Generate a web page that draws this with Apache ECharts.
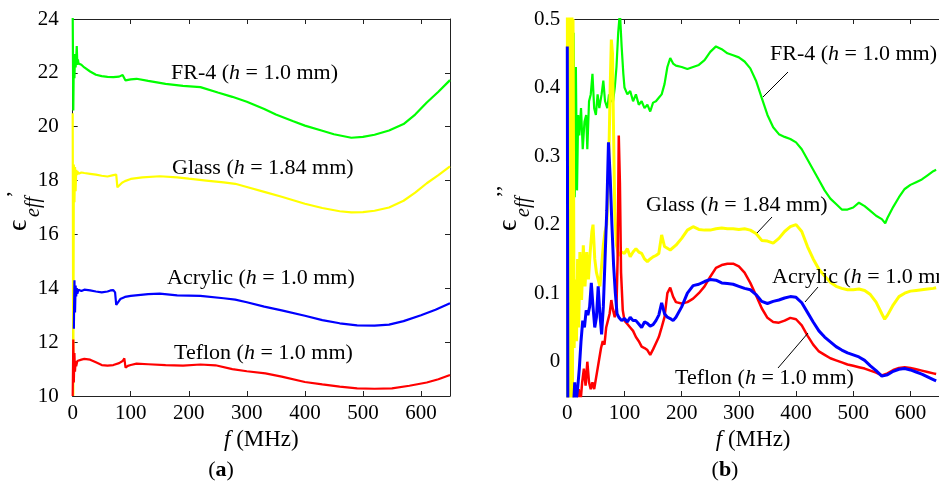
<!DOCTYPE html>
<html><head><meta charset="utf-8">
<script src="https://cdn.jsdelivr.net/npm/echarts@6/dist/echarts.min.js"></script>
<style>html,body{margin:0;padding:0;background:#fff}#c{width:939px;height:483px}</style>
</head><body><div id="c"></div>
<script>
// ---------- data (a): real part ----------
const aFR4F = [0,1,2,3,4,5,6,7,8,9,10,15,20,30,40,50,60,70,80,86,89,91,94,100,110,130,160,190,220,250,275,300,330,350,380,400,430,450,480,500,520,545,570,590,610,630,650];
const aFR4V = [24.2,20.6,22.6,21.8,22.7,22.2,22.5,23.0,22.3,22.5,22.35,22.3,22.2,22.05,21.93,21.88,21.85,21.84,21.86,21.92,21.98,21.72,21.7,21.76,21.78,21.7,21.59,21.52,21.47,21.27,21.11,20.93,20.66,20.45,20.2,20.04,19.85,19.72,19.59,19.62,19.7,19.86,20.1,20.45,20.9,21.3,21.73];
const aGlassF = [0,1,2,3,4,5,6,7,8,10,15,20,30,40,50,60,70,75,77,79,85,90,100,120,150,180,200,230,260,280,300,330,360,400,430,460,480,500,520,545,570,590,610,630,650];
const aGlassV = [20.5,10.0,18.6,17.2,18.5,17.6,18.4,18.2,18.35,18.25,18.3,18.28,18.25,18.22,18.18,18.15,18.2,18.22,17.75,17.72,17.92,17.98,18.06,18.12,18.16,18.12,18.07,18.0,17.93,17.88,17.76,17.58,17.4,17.14,16.98,16.86,16.82,16.83,16.88,17.0,17.25,17.55,17.9,18.2,18.53];
const aAcrF = [2,3,4,5,6,7,8,10,15,20,30,40,50,60,65,70,73,75,78,82,90,100,130,150,180,220,260,280,300,330,360,400,430,460,490,520,545,570,600,625,650];
const aAcrV = [12.5,14.3,13.1,14.1,13.7,14.0,13.8,13.95,13.9,13.95,13.92,13.88,13.85,13.88,13.92,13.93,13.85,13.38,13.45,13.6,13.68,13.72,13.78,13.8,13.74,13.72,13.63,13.58,13.48,13.32,13.18,12.98,12.82,12.7,12.62,12.61,12.65,12.78,13.0,13.2,13.44];
const aTefF = [0,1,2,3,4,5,6,8,10,15,20,30,40,50,60,70,80,86,89,91,95,100,110,130,160,190,220,246,275,300,332,360,400,430,460,490,520,550,580,610,630,650];
const aTefV = [10.0,12.1,10.5,11.6,10.9,11.3,11.1,11.3,11.3,11.35,11.38,11.35,11.25,11.15,11.13,11.15,11.22,11.3,11.4,11.05,11.12,11.15,11.2,11.18,11.15,11.13,11.17,11.14,11.0,10.92,10.84,10.72,10.52,10.43,10.35,10.28,10.27,10.28,10.38,10.5,10.62,10.78];

// ---------- data (b): imaginary part ----------
const bFR4F = [0,1,3,5,7,9,11,13,15,17,19,21,24,27,30,33,35,38,41,44,47,50,53,56,60,63,66,70,73,76,80,83,86,89,92,95,98,100,105,110,115,120,125,130,135,140,145,150,155,160,165,170,175,180,185,190,200,210,220,230,240,250,260,270,280,290,300,310,320,330,340,350,360,370,380,390,400,410,420,430,440,450,460,470,480,490,500,510,520,530,540,550,556,560,570,580,590,600,610,620,630,640,645];
const bFR4V = [-0.1,0.46,-0.1,0.3,-0.1,0.2,0.48,0.24,0.43,0.25,0.36,0.33,0.37,0.31,0.35,0.36,0.31,0.38,0.39,0.42,0.37,0.36,0.39,0.37,0.39,0.41,0.38,0.37,0.39,0.38,0.38,0.40,0.43,0.48,0.51,0.46,0.42,0.40,0.39,0.395,0.38,0.39,0.375,0.38,0.37,0.375,0.365,0.378,0.38,0.385,0.39,0.405,0.43,0.443,0.435,0.432,0.43,0.427,0.43,0.433,0.44,0.452,0.46,0.456,0.45,0.447,0.444,0.438,0.428,0.41,0.385,0.36,0.342,0.332,0.328,0.325,0.32,0.31,0.295,0.28,0.265,0.25,0.238,0.23,0.222,0.222,0.225,0.232,0.227,0.22,0.213,0.208,0.202,0.21,0.226,0.24,0.252,0.258,0.262,0.266,0.272,0.278,0.28];
const bGlassF = [0,1,2,3,4,5,6,7,8,9,10,12,14,16,18,20,22,25,28,31,34,37,40,43,45,48,51,54,57,60,63,66,69,72,75,77,79,81,83,86,90,95,100,105,110,115,120,125,130,135,140,145,150,155,160,165,170,180,190,200,210,220,230,240,250,260,270,280,290,300,310,320,330,340,350,360,370,380,390,400,410,420,430,440,450,460,470,480,490,500,510,520,530,540,550,555,560,570,580,590,600,610,620,630,640,645];
const bGlassV = [0.6,-0.1,0.6,-0.1,0.6,-0.1,0.6,0.0,0.6,-0.1,0.5,0.02,0.12,0.03,0.15,0.05,0.16,0.09,0.17,0.11,0.16,0.12,0.16,0.19,0.2,0.15,0.13,0.12,0.11,0.14,0.17,0.19,0.2,0.27,0.4,0.47,0.45,0.33,0.22,0.17,0.155,0.16,0.158,0.165,0.153,0.16,0.165,0.16,0.158,0.15,0.146,0.15,0.153,0.155,0.158,0.185,0.168,0.163,0.17,0.18,0.192,0.197,0.193,0.192,0.192,0.194,0.195,0.194,0.194,0.193,0.194,0.192,0.187,0.177,0.176,0.173,0.18,0.19,0.197,0.2,0.19,0.168,0.15,0.135,0.125,0.116,0.11,0.107,0.105,0.105,0.106,0.104,0.098,0.087,0.07,0.062,0.068,0.083,0.095,0.1,0.103,0.104,0.105,0.106,0.107,0.108];
const bAcrF = [0,1,3,10,13,15,18,21,24,27,30,33,36,39,42,45,48,51,54,57,60,63,66,69,72,75,78,81,84,87,90,95,100,105,110,115,120,125,130,135,140,145,150,155,160,165,170,175,180,185,190,200,210,220,230,240,250,260,270,280,290,300,310,320,330,340,350,360,370,380,390,400,410,420,430,440,450,460,470,480,490,500,510,520,530,540,550,560,570,580,590,600,610,620,630,640,645];
const bAcrV = [0.46,-0.1,-0.1,-0.08,-0.03,-0.06,-0.04,-0.01,0.03,0.06,0.05,0.075,0.068,0.08,0.115,0.08,0.05,0.065,0.11,0.07,0.04,0.08,0.15,0.22,0.32,0.27,0.2,0.14,0.1,0.07,0.065,0.06,0.063,0.058,0.065,0.06,0.06,0.055,0.05,0.058,0.056,0.052,0.054,0.06,0.068,0.086,0.07,0.065,0.063,0.06,0.065,0.08,0.1,0.111,0.113,0.117,0.12,0.119,0.115,0.114,0.113,0.11,0.107,0.105,0.098,0.088,0.085,0.088,0.09,0.093,0.095,0.094,0.086,0.072,0.058,0.045,0.036,0.029,0.022,0.017,0.013,0.01,0.007,0.002,-0.006,-0.013,-0.021,-0.019,-0.014,-0.011,-0.01,-0.012,-0.015,-0.018,-0.022,-0.026,-0.028];
const bTefF = [17,20,23,26,29,32,35,38,41,44,47,50,53,56,59,62,65,68,71,74,77,80,83,86,88,90,92,94,97,100,105,110,115,120,125,130,135,140,145,150,155,160,165,170,175,180,185,190,200,210,220,230,240,250,260,270,280,290,300,310,320,330,340,350,360,370,380,390,400,410,420,430,440,450,460,470,480,490,500,510,520,530,540,550,560,570,580,590,600,610,620,630,640,645];
const bTefV = [-0.1,-0.04,-0.06,-0.03,-0.01,-0.035,0.0,-0.03,-0.04,-0.03,-0.04,-0.025,-0.01,0.005,0.02,0.03,0.025,0.05,0.06,0.07,0.09,0.075,0.065,0.08,0.15,0.33,0.26,0.13,0.075,0.06,0.055,0.05,0.045,0.036,0.03,0.022,0.02,0.017,0.01,0.018,0.027,0.036,0.05,0.065,0.1,0.108,0.095,0.087,0.085,0.087,0.092,0.1,0.11,0.124,0.137,0.141,0.143,0.143,0.139,0.13,0.115,0.097,0.078,0.064,0.058,0.057,0.06,0.064,0.062,0.053,0.038,0.025,0.015,0.01,0.005,0.002,-0.001,-0.004,-0.006,-0.008,-0.01,-0.013,-0.016,-0.02,-0.017,-0.012,-0.009,-0.008,-0.009,-0.011,-0.013,-0.015,-0.017,-0.018];

// ---------- axes / labels ----------
const xTicks = [0,100,200,300,400,500,600];
const aYTicks = [10,12,14,16,18,20,22,24];
const bYTicks = [0,0.1,0.2,0.3,0.4,0.5];
const seriesNames = ['FR-4','Glass','Acrylic','Teflon'];
const thickness = ['1.0','1.84','1.0','1.0'];
const colors = ['#00ff00','#ffff00','#0000ff','#ff0000'];

const FF = '"Times New Roman","Liberation Serif",serif';
const zip = (f,v) => f.map((x,i)=>[x,v[i]]);

function xAx(gi, pos, show){
  return {type:'value', gridIndex:gi, position:pos, min:0, max:650, interval:100,
    axisLine:{show:true, onZero:false, lineStyle:{color:'#222',width:1}},
    axisTick:{show:true, inside:true, length:5, lineStyle:{color:'#222'}},
    axisLabel:{show:show, showMaxLabel:false, margin:7, color:'#000', fontFamily:FF, fontSize:21,
      formatter:v=> xTicks.includes(v)? String(v):''},
    splitLine:{show:false}};
}

const chart = echarts.init(document.getElementById('c'), null, {renderer:'canvas'});
const ln = (name, xi, yi, data, color, w, z) => ({name, type:'line', xAxisIndex:xi, yAxisIndex:yi, data, showSymbol:false, symbol:'none',
  lineStyle:{color, width:w}, itemStyle:{color}, z, animation:false, clip:true});

function lab(name, th){ return name + ' ({i|h} = ' + th + ' mm)'; }
const richI = {i:{fontStyle:'italic', fontFamily:FF, fontSize:22, fill:'#000'}};
function txt(x, y, s){ return {type:'text', x, y, style:{text:s, rich:richI, fontFamily:FF, fontSize:22, fill:'#000', textAlign:'left', textVerticalAlign:'middle'}, z:50}; }
function seg(x1,y1,x2,y2){ return {type:'line', shape:{x1,y1,x2,y2}, style:{stroke:'#000', lineWidth:1}, z:50}; }
function ytitle(x, y, prime){
  return {type:'group', x, y, rotation:Math.PI/2, z:50, children:[
    {type:'text', x:0, y:0, style:{text:'ϵ', fontFamily:FF, fontSize:28, fill:'#000', textAlign:'left', textVerticalAlign:'middle'}},
    {type:'text', x:14, y:15, style:{text:'eff', fontFamily:FF, fontStyle:'italic', fontSize:20, fill:'#000', textAlign:'left', textVerticalAlign:'middle'}},
    {type:'text', x:33, y:-4, style:{text:prime, fontFamily:FF, fontSize:22, fill:'#000', textAlign:'left', textVerticalAlign:'middle'}}
  ]};
}

chart.setOption({
  animation:false,
  backgroundColor:'#fff',
  grid:[{left:72.7, top:19, width:377.3, height:377, containLabel:false},
        {left:567.3, top:19, width:376.7, height:377, containLabel:false}],
  xAxis:[
    Object.assign(xAx(0,'bottom',true), {name:'{i|f} (MHz)', nameLocation:'middle', nameGap:32,
      nameTextStyle:{fontFamily:FF, fontSize:23, color:'#000', rich:{i:{fontStyle:'italic', fontFamily:FF, fontSize:23, color:'#000'}}}}),
    xAx(0,'top',false),
    Object.assign(xAx(1,'bottom',true), {name:'{i|f} (MHz)', nameLocation:'middle', nameGap:32,
      nameTextStyle:{fontFamily:FF, fontSize:23, color:'#000', rich:{i:{fontStyle:'italic', fontFamily:FF, fontSize:23, color:'#000'}}}}),
    xAx(1,'top',false)
  ],
  yAxis:[
    {type:'value', gridIndex:0, position:'left', min:10, max:24, interval:2,
      axisLine:{show:true, onZero:false, lineStyle:{color:'#222'}}, axisTick:{show:true, inside:true, length:5},
      axisLabel:{margin:14, color:'#000', fontFamily:FF, fontSize:21, formatter:v=> aYTicks.includes(v)?String(v):''}, splitLine:{show:false}},
    {type:'value', gridIndex:0, position:'right', min:10, max:24, interval:2,
      axisLine:{show:true, onZero:false, lineStyle:{color:'#222'}}, axisTick:{show:true, inside:true, length:5, lineStyle:{color:'#222'}},
      axisLabel:{show:false}, splitLine:{show:false}},
    {type:'value', gridIndex:1, position:'left', min:-0.05, max:0.5, interval:0.05,
      axisLine:{show:true, onZero:false, lineStyle:{color:'#222'}}, axisTick:{show:false},
      axisLabel:{margin:7, color:'#000', fontFamily:FF, fontSize:21,
        formatter:v=>{const k=Math.round(v*100); const t=bYTicks.find(u=>Math.round(u*100)===k); return t===undefined?'':String(t);}},
      splitLine:{show:false}},
    {type:'value', gridIndex:1, position:'right', min:-0.05, max:0.5, interval:0.05,
      axisLine:{show:true, onZero:false, lineStyle:{color:'#222'}}, axisTick:{show:false}, axisLabel:{show:false}, splitLine:{show:false}}
  ],
  series:[
    ln(seriesNames[0],0,0,zip(aFR4F,aFR4V),colors[0],2.2,2),
    ln(seriesNames[1],0,0,zip(aGlassF,aGlassV),colors[1],2.2,3),
    ln(seriesNames[2],0,0,zip(aAcrF,aAcrV),colors[2],2.2,4),
    ln(seriesNames[3],0,0,zip(aTefF,aTefV),colors[3],2.2,5),
    ln(seriesNames[0],2,2,zip(bFR4F,bFR4V),colors[0],2.2,2),
    ln(seriesNames[1],2,2,zip(bGlassF,bGlassV),colors[1],3,3),
    ln(seriesNames[3],2,2,zip(bTefF,bTefV),colors[3],2.5,4),
    ln(seriesNames[2],2,2,zip(bAcrF,bAcrV),colors[2],3,5)
  ],
  graphic:[
    txt(171, 73, lab(seriesNames[0],thickness[0])),
    txt(172, 168, lab(seriesNames[1],thickness[1])),
    txt(167, 278, lab(seriesNames[2],thickness[2])),
    txt(174, 353, lab(seriesNames[3],thickness[3])),
    txt(770, 54, lab(seriesNames[0],thickness[0])),
    txt(646, 205, lab(seriesNames[1],thickness[1])),
    txt(772, 277, lab(seriesNames[2],thickness[2])),
    txt(675, 378, lab(seriesNames[3],thickness[3])),
    seg(788,72,763,97),
    seg(772,217,757,233),
    seg(818,287,805,302),
    seg(778,368,808,333),
    ytitle(19,231,'’'),
    ytitle(509,231,'’’'),
    {type:'text', x:221, y:470, style:{text:'({b|a})', rich:{b:{fontWeight:'bold', fontFamily:FF, fontSize:22, fill:'#000'}}, fontFamily:FF, fontSize:22, fill:'#000', textAlign:'center', textVerticalAlign:'middle'}},
    {type:'text', x:725, y:470, style:{text:'({b|b})', rich:{b:{fontWeight:'bold', fontFamily:FF, fontSize:22, fill:'#000'}}, fontFamily:FF, fontSize:22, fill:'#000', textAlign:'center', textVerticalAlign:'middle'}}
  ]
});
</script></body></html>
